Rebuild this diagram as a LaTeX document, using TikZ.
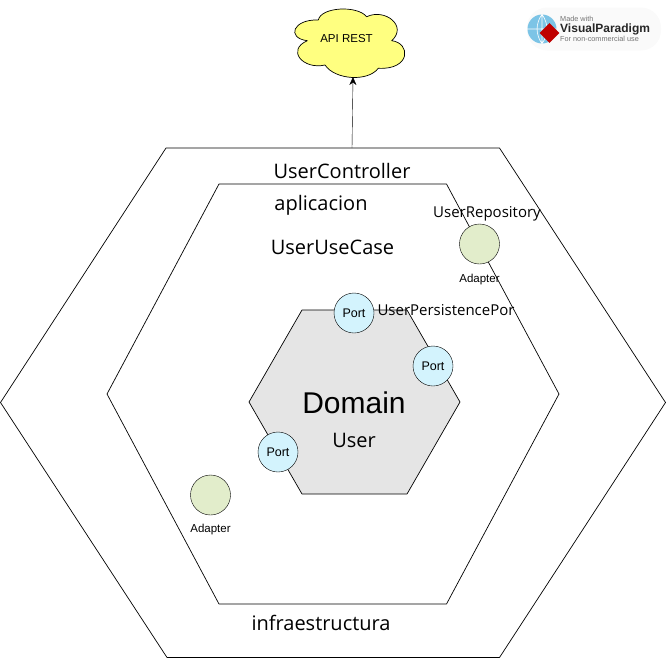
\documentclass[tikz,border=0pt]{standalone}
\usepackage{fontspec}
\setmainfont{Liberation Sans}
\newfontfamily\labelfont{Open Sans}
\usetikzlibrary{shapes.geometric,arrows.meta}
\definecolor{portblue}{HTML}{D3F3FD}
\definecolor{adaptergreen}{HTML}{E2EDCB}
\definecolor{domaingrey}{HTML}{E5E5E5}
\definecolor{cloudyellow}{HTML}{FFFF80}
\definecolor{globeblue}{HTML}{7CC4E6}
\tikzset{
  x=1pt, y=-1pt,
  hexline/.style = {draw=black, line width=0.7pt, line join=round},
  port/.style = {shape=circle, draw, fill=portblue, minimum size=40pt,
    inner sep=0pt, font=\fontsize{12.5pt}{12.5pt}\selectfont},
  adapter/.style = {shape=circle, draw, fill=adaptergreen, minimum size=40pt,
    inner sep=0pt},
  tag/.style = {inner sep=0pt, font=\fontsize{11.5pt}{11.5pt}\selectfont},
  caption/.style = {inner sep=0pt, font=\labelfont\fontsize{20pt}{20pt}\selectfont},
  smallcaption/.style = {inner sep=0pt, font=\labelfont\fontsize{15pt}{15pt}\selectfont},
  badgetext/.style = {inner sep=0pt, anchor=west, text=black!55, font=\fontsize{7.3pt}{7.3pt}\selectfont}
}
\begin{document}
\begin{tikzpicture}
  \useasboundingbox (0,0) rectangle (666,659);
  % hexagons
  \draw[hexline] (0.5,402.5) -- (166,148) -- (499.5,148) -- (665.5,402.5) -- (499.5,657.5) -- (167,657.5) -- cycle;
  \draw[hexline] (107,394) -- (219,184) -- (446.5,184) -- (559,394) -- (446.5,604) -- (219,604) -- cycle;
  \draw[hexline, fill=domaingrey] (249,402) -- (302,310) -- (407,310) -- (460,402) -- (407,494) -- (302,494) -- cycle;
  % cloud
  \draw[hexline, fill=cloudyellow] (318.3,20) .. controls (321,7) and (357,5) .. (366.7,16.7)
    .. controls (385,8) and (408,26) .. (391.7,40.7)
    .. controls (411,43) and (411,70) .. (378.3,68.3)
    .. controls (368,82) and (335,80) .. (325,65)
    .. controls (303,70) and (286,50) .. (307.3,40.7)
    .. controls (286,38) and (293,19) .. (318.3,20) -- cycle;
  \node (api) [tag] at (346.5,39) {API REST};
  \coordinate (top) at (352,148);
  \coordinate (cloudtip) at (353,77);
  \draw[-{Stealth[length=8pt,width=7pt]}] (top) -- (cloudtip);
  % circles
  \node (portA) [port] at (354,313) {Port};
  \node (portB) [port] at (433,366) {Port};
  \node (portC) [port] at (278,452) {Port};
  \node (adapterA) [adapter] at (479.5,244) {};
  \node (adapterB) [adapter] at (210.5,495) {};
  \node (adapterTextA) [tag] at (479.5,279.5) {Adapter};
  \node (adapterTextB) [tag] at (210.5,530) {Adapter};
  % labels
  \node (controller) [caption] at (342,171) {UserController};
  \node (aplicacion) [caption] at (321,205) {aplicacion};
  \node (usecase) [caption] at (332.5,247) {UserUseCase};
  \node (repository) [smallcaption] at (487,214) {UserRepository};
  \node (persistence) [smallcaption] at (446,310) {UserPersistencePor};
  \node (domain) [inner sep=0pt, font=\fontsize{30pt}{30pt}\selectfont] at (354,403) {Domain};
  \node (user) [caption] at (354,440) {User};
  \node (infra) [caption] at (321,623) {infraestructura};
  % badge
  \node (badge) [fill=black!2, rounded corners=20pt, minimum width=134pt, minimum height=43pt] at (594,29) {};
  \node (globe) [shape=circle, fill=globeblue, minimum size=29pt, inner sep=0pt] at (542,29) {};
  \draw[white, line width=0.6pt] (globe.west) -- (globe.east) (globe.north) -- (globe.south)
    (globe.north) to[bend left=35] (globe.south) (globe.north) to[bend right=35] (globe.south);
  \node (mark) [shape=diamond, aspect=1, fill=red!75!black, inner sep=0pt, minimum size=20pt] at (549.5,33) {};
  \node (made) [badgetext] at (560,18.5) {Made with};
  \node (vp) [badgetext, text=black!85, font=\bfseries\fontsize{12pt}{12pt}\selectfont] at (560,29) {VisualParadigm};
  \node (free) [badgetext] at (560,39) {For non-commercial use};
\end{tikzpicture}
\end{document}
